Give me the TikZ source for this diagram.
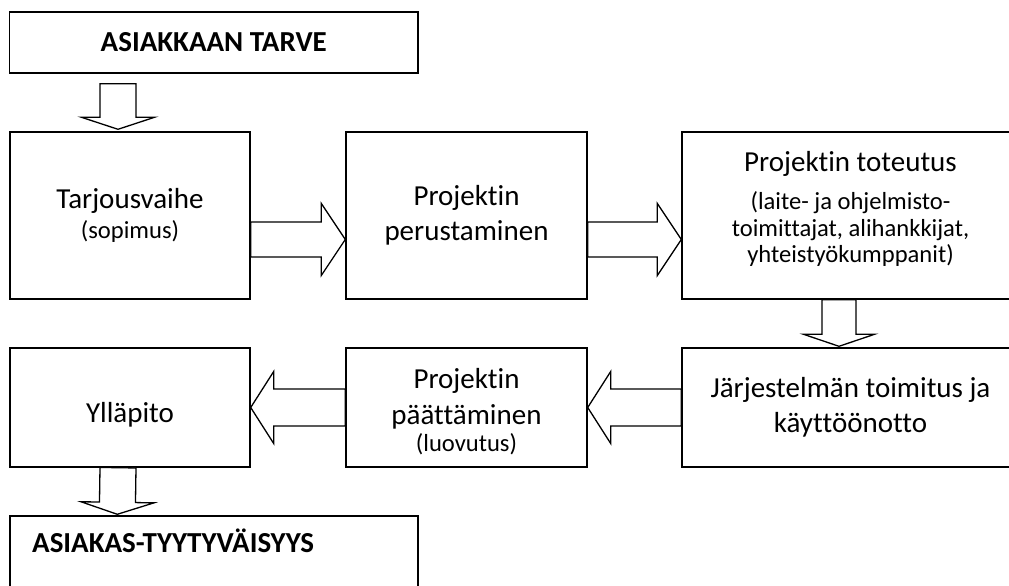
\documentclass[tikz,border=0pt]{standalone}
\usepackage{fontspec}
\setmainfont{Carlito}[Ligatures=NoCommon]
\usetikzlibrary{calc}
\newcommand{\bigf}{\fontsize{29}{35}\selectfont}
\newcommand{\smallf}{\fontsize{24.6}{25}\selectfont}
\tikzset{
  box/.style={draw, line width=1.4pt, rectangle, inner sep=0pt, align=center, font=\bigf},
  arr/.style={draw, line width=1.3pt, fill=white, line join=miter},
}
\newcommand{\blockarrow}[5]{%
  \coordinate (ba-h) at ($(#2)!#5!(#1)$);
  \draw[arr] ($(#1)!#3!90:(#2)$) -- ($(ba-h)!#3!90:(#2)$) -- ($(ba-h)!#4!90:(#2)$) -- (#2)
    -- ($(ba-h)!#4!-90:(#2)$) -- ($(ba-h)!#3!-90:(#2)$) -- ($(#1)!#3!-90:(#2)$) -- cycle;
}
\begin{document}
\begin{tikzpicture}[x=1pt,y=1pt]
\useasboundingbox (0,0) rectangle (1009,586);
\clip (0,0) rectangle (1009,586);
% boxes
\node[box, minimum width=408.5pt, minimum height=61pt] (top) at (213.75,543.5) {\textbf{ASIAKKAAN TARVE}};
\node[box, minimum width=240pt, minimum height=167pt] (b1) at (130,370.5) {Tarjousvaihe\\[-5pt]{\smallf (sopimus)}};
\node[box, minimum width=241pt, minimum height=167pt] (b2) at (466.5,370.5) {Projektin\\perustaminen};
\node[box, minimum width=337pt, minimum height=167pt] (b3) at (850.5,370.5) {Projektin toteutus\\[3pt]{\smallf (laite- ja ohjelmisto-}\\[-8pt]{\smallf toimittajat, alihankkijat,}\\[-9pt]{\smallf yhteistyökumppanit)\rule[-18pt]{0pt}{18pt}}};
\node[box, minimum width=337pt, minimum height=119pt] (c3) at (850.5,178.5) {Järjestelmän toimitus ja\\käyttöönotto};
\node[box, minimum width=241pt, minimum height=119pt] (c2) at (466.5,178.5) {\rule{0pt}{29pt}Projektin\\[1pt]päättäminen\\[-8pt]{\smallf (luovutus)}};
\node[box, minimum width=240pt, minimum height=119pt] (c1) at (130,178.5) {\rule{0pt}{34pt}Ylläpito};
\node[box, minimum width=408pt, minimum height=100pt] (bot) at (214,20) {};
\node[font=\bigf, anchor=base west, inner sep=0pt] (botlabel) at (32,33) {\textbf{ASIAKAS-TYYTYVÄISYYS}};
% connector coordinates
\coordinate (a0s) at ($(top.south)+(-95.75,-10)$);
\coordinate (a0e) at ($(b1.north)+(-12,2)$);
\coordinate (a1s) at ($(b1.east)+(0,-24)$);
\coordinate (a1e) at ($(b2.west)+(0,-24)$);
\coordinate (a2s) at ($(b2.east)+(0,-24)$);
\coordinate (a2e) at ($(b3.west)+(0,-24)$);
\coordinate (a3s) at ($(b3.south)+(-11.5,0)$);
\coordinate (a3e) at ($(c3.north)+(-11.5,1)$);
\coordinate (a6s) at ($(c1.south)+(-12,0)$);
\coordinate (a6e) at ($(bot.north west)+(108,1)$);
% block arrows
\blockarrow{a0s}{a0e}{18pt}{36.5pt}{12pt}
\blockarrow{a1s}{a1e}{17.5pt}{36pt}{24pt}
\blockarrow{a2s}{a2e}{17.5pt}{36pt}{24pt}
\blockarrow{a3s}{a3e}{17pt}{35.5pt}{12pt}
\blockarrow{c3.west}{c2.east}{18.5pt}{36pt}{23pt}
\blockarrow{c2.west}{c1.east}{18.5pt}{36pt}{23pt}
\blockarrow{a6s}{a6e}{18pt}{36.5pt}{12pt}
\end{tikzpicture}
\end{document}
